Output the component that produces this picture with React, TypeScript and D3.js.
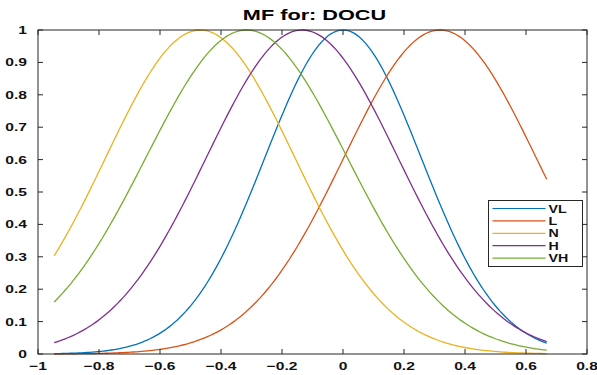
import React, { useEffect, useRef } from "react";
import * as d3 from "d3";

// Gaussian membership functions for the DOCU input variable
const mfNames = ["VL", "L", "N", "H", "VH"];
const mfCenters = [0.0, 0.318, -0.468, -0.134, -0.316];
const mfSigmas = [0.256, 0.315, 0.31, 0.314, 0.33];
const mfColors = ["#0072BD", "#D95319", "#EDB120", "#7E2F8E", "#77AC30"];
const inputRange = [-0.947, 0.668];

const xTicks = [-1, -0.8, -0.6, -0.4, -0.2, 0, 0.2, 0.4, 0.6, 0.8];
const yTicks = [0, 0.1, 0.2, 0.3, 0.4, 0.5, 0.6, 0.7, 0.8, 0.9, 1];

const W = 597;
const H = 375;
const M = { left: 38, right: 10, top: 30, bottom: 21 };

export default function App() {
  const ref = useRef<SVGSVGElement>(null);

  useEffect(() => {
    const svg = d3.select(ref.current);
    svg.selectAll("*").remove();

    const x = d3.scaleLinear().domain([-1, 0.8]).range([M.left, W - M.right]);
    const y = d3.scaleLinear().domain([0, 1]).range([H - M.bottom, M.top]);
    const font = "'Liberation Sans', Arial, Helvetica, sans-serif";
    const axisColor = "#262626";
    const tickLen = 5;
    const stretch = 1.42; // wide rendering of the bold labels

    // sample points along the input range
    const n = 181;
    const xs = d3.range(n).map((i) => inputRange[0] + ((inputRange[1] - inputRange[0]) * i) / (n - 1));

    const line = d3
      .line<[number, number]>()
      .x((d) => x(d[0]))
      .y((d) => y(d[1]));

    const plot = svg.append("g");
    mfNames.forEach((name, i) => {
      const c = mfCenters[i];
      const s = mfSigmas[i];
      const pts: [number, number][] = xs.map((v) => [v, Math.exp(-((v - c) ** 2) / (2 * s * s))]);
      plot
        .append("path")
        .attr("d", line(pts))
        .attr("fill", "none")
        .attr("stroke", mfColors[i])
        .attr("stroke-width", 1.3);
    });

    // axes box
    const x0 = x(-1), x1 = x(0.8), y0 = y(0), y1 = y(1);
    svg
      .append("rect")
      .attr("x", x0)
      .attr("y", y1)
      .attr("width", x1 - x0)
      .attr("height", y0 - y1)
      .attr("fill", "none")
      .attr("stroke", axisColor)
      .attr("stroke-width", 1);

    const ticks = svg.append("g").attr("stroke", axisColor).attr("stroke-width", 1);
    xTicks.forEach((t) => {
      ticks.append("line").attr("x1", x(t)).attr("x2", x(t)).attr("y1", y0).attr("y2", y0 - tickLen);
      ticks.append("line").attr("x1", x(t)).attr("x2", x(t)).attr("y1", y1).attr("y2", y1 + tickLen);
    });
    yTicks.forEach((t) => {
      ticks.append("line").attr("x1", x0).attr("x2", x0 + tickLen).attr("y1", y(t)).attr("y2", y(t));
      ticks.append("line").attr("x1", x1).attr("x2", x1 - tickLen).attr("y1", y(t)).attr("y2", y(t));
    });

    const fmt = (v: number) => (v === 0 ? "0" : d3.format("~g")(v));

    svg
      .append("g")
      .selectAll("text")
      .data(xTicks)
      .join("text")
      .attr("transform", (d) => `translate(${x(d)},${y0 + 15.5}) scale(${stretch},1)`)
      .attr("text-anchor", "middle")
      .attr("font-family", font)
      .attr("font-weight", "bold")
      .attr("font-size", 11)
      .attr("fill", "#111")
      .text(fmt);

    svg
      .append("g")
      .selectAll("text")
      .data(yTicks)
      .join("text")
      .attr("transform", (d) => `translate(${x0 - 11},${y(d) + 4}) scale(${stretch},1)`)
      .attr("text-anchor", "end")
      .attr("font-family", font)
      .attr("font-weight", "bold")
      .attr("font-size", 11)
      .attr("fill", "#111")
      .text(fmt);

    svg
      .append("text")
      .attr("transform", `translate(${(x0 + x1) / 2 + 2},20) scale(1.4,1)`)
      .attr("text-anchor", "middle")
      .attr("font-family", font)
      .attr("font-weight", "bold")
      .attr("font-size", 15.5)
      .attr("fill", "#000")
      .text("MF for: DOCU");

    // legend
    const lg = svg.append("g").attr("transform", "translate(488.5,200.5)");
    lg.append("rect")
      .attr("width", 94)
      .attr("height", 66)
      .attr("fill", "#fff")
      .attr("stroke", axisColor)
      .attr("stroke-width", 1);
    mfNames.forEach((name, i) => {
      const ly = 8 + i * 12.4;
      lg.append("line")
        .attr("x1", 4)
        .attr("x2", 57)
        .attr("y1", ly)
        .attr("y2", ly)
        .attr("stroke", mfColors[i])
        .attr("stroke-width", 1.2);
      lg.append("text")
        .attr("transform", `translate(60,${ly + 4}) scale(${stretch},1)`)
        .attr("font-family", font)
        .attr("font-weight", "bold")
        .attr("font-size", 10)
        .attr("fill", "#111")
        .text(name);
    });
  }, []);

  return (
    <svg
      ref={ref}
      width={W}
      height={H}
      style={{ position: "absolute", left: 0, top: 0, background: "#fff" }}
    />
  );
}
